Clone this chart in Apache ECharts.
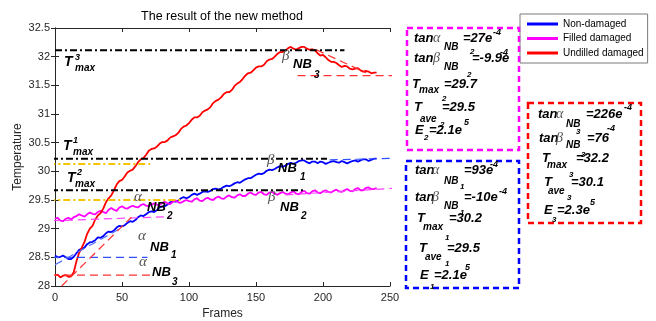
<!DOCTYPE html>
<html><head><meta charset="utf-8">
<script src="https://cdn.jsdelivr.net/npm/echarts@6/dist/echarts.min.js"></script>
<style>html,body{margin:0;padding:0;background:#fff}#c{width:656px;height:321px}</style>
</head><body><div id="c"></div>
<script>
// ---------------- data ----------------
const frames = [0,2,4,6,8,10,12,14,16,18,20,22,24,26,28,30,32,34,36,38,40,42,44,46,48,50,52,54,56,58,60,62,64,66,68,70,72,74,76,78,80,82,84,86,88,90,92,94,96,98,100,102,104,106,108,110,112,114,116,118,120,122,124,126,128,130,132,134,136,138,140,142,144,146,148,150,152,154,156,158,160,162,164,166,168,170,172,174,176,178,180,182,184,186,188,190,192,194,196,198,200,202,204,206,208,210,212,214,216,218,220,222,224,226,228,230,232,234,236,238,240];
const nonDamaged = [28.53,28.50,28.51,28.53,28.50,28.47,28.47,28.51,28.57,28.63,28.65,28.67,28.73,28.76,28.77,28.80,28.85,28.84,28.87,28.92,
  28.95,28.94,28.97,29.02,29.05,29.04,29.06,29.10,29.13,29.12,29.15,29.20,29.23,29.22,29.25,29.29,29.30,29.29,29.32,29.37,
  29.39,29.39,29.42,29.46,29.48,29.47,29.49,29.53,29.55,29.53,29.55,29.59,29.61,29.59,29.61,29.64,29.65,29.64,29.66,29.69,
  29.70,29.68,29.70,29.73,29.75,29.74,29.76,29.79,29.81,29.80,29.83,29.86,29.88,29.88,29.91,29.94,29.96,29.95,29.97,30.01,
  30.03,30.02,30.04,30.07,30.09,30.08,30.10,30.13,30.15,30.13,30.15,30.18,30.19,30.19,30.16,30.14,30.17,30.17,30.14,30.17,
  30.16,30.13,30.15,30.17,30.18,30.16,30.15,30.18,30.16,30.14,30.16,30.18,30.19,30.17,30.19,30.21,30.21,30.18,30.20,30.22,30.22];
const filledDamaged = [29.17,29.19,29.14,29.13,29.17,29.19,29.16,29.20,29.22,29.25,29.23,29.21,29.25,29.28,29.26,29.25,29.29,29.31,29.29,29.27,
  29.33,29.36,29.33,29.31,29.37,29.39,29.36,29.35,29.38,29.40,29.38,29.37,29.41,29.43,29.40,29.39,29.42,29.44,29.42,29.41,
  29.45,29.47,29.44,29.43,29.47,29.49,29.46,29.45,29.48,29.50,29.48,29.47,29.51,29.53,29.49,29.48,29.52,29.54,29.51,29.50,
  29.54,29.56,29.53,29.52,29.56,29.58,29.55,29.54,29.58,29.60,29.57,29.57,29.61,29.63,29.60,29.59,29.63,29.64,29.60,29.59,
  29.63,29.64,29.61,29.59,29.62,29.64,29.61,29.60,29.63,29.65,29.61,29.60,29.64,29.66,29.62,29.61,29.65,29.67,29.63,29.62,
  29.65,29.67,29.64,29.63,29.66,29.68,29.65,29.64,29.67,29.69,29.66,29.65,29.69,29.71,29.67,29.67,29.71,29.72,29.69,29.69,29.71];
const undilledDamaged = [28.18,28.20,28.15,28.18,28.19,28.16,28.17,28.24,28.43,28.58,28.67,28.77,28.91,29.00,29.05,29.16,29.23,29.27,29.35,29.46,
  29.53,29.58,29.67,29.77,29.83,29.85,29.91,29.98,30.01,30.03,30.09,30.16,30.21,30.23,30.29,30.36,30.39,30.40,30.43,30.48,
  30.51,30.51,30.54,30.59,30.61,30.63,30.67,30.74,30.78,30.80,30.84,30.90,30.94,30.94,30.97,31.03,31.06,31.08,31.12,31.19,
  31.23,31.25,31.29,31.35,31.38,31.38,31.42,31.49,31.53,31.56,31.61,31.67,31.71,31.72,31.76,31.81,31.83,31.83,31.86,31.92,
  31.95,31.96,32.00,32.05,32.08,32.08,32.11,32.15,32.17,32.14,32.12,32.15,32.17,32.17,32.14,32.12,32.13,32.11,32.06,32.02,
  32.03,31.99,31.94,31.91,31.91,31.89,31.85,31.82,31.84,31.83,31.79,31.78,31.79,31.80,31.76,31.74,31.75,31.74,31.71,31.72,31.72];
const seriesNames = ['Non-damaged','Filled damaged','Undilled damaged'];
const seriesColors = ['#0000FF','#FF00FF','#FF0000'];
const xTicks = [0,50,100,150,200,250];
const yTicks = [28,28.5,29,29.5,30,30.5,31,31.5,32,32.5];

// reference / tangent lines (frame, temperature)
const tMax3Line = [[0,32.11],[216,32.11]];
const tMax1Line = [[-3,30.22],[203,30.22]];
const tMax2Line = [[-3,29.67],[187,29.67]];
const tAveLineA = [[-5,30.13],[71,30.13]];
const tAveLineB = [[-5,29.5],[95,29.5]];
const alpha1Base = [[-3,28.5],[69,28.5]];
const alpha3Base = [[-3,28.19],[71,28.19]];
const alpha2Tan = [[-12,29.13],[86,29.21]];
const alpha1Tan = [[0,28.37],[50,29.02]];
const alpha3Tan = [[5,28.0],[57,29.2]];
const beta1Tan = [[205,30.2],[258,30.23]];
const beta2Tan = [[172,29.59],[256,29.71]];
const beta3Tan = [[195,32.12],[232,31.72]];
const beta3Base = [[181,31.67],[257,31.67]];

// ---------------- helpers ----------------
const SANS = '"Liberation Sans", Arial, Helvetica, sans-serif';
const SERIF = '"Liberation Serif", "DejaVu Serif", serif';
function t(x, base, s, size, kind) {
  let font, fill = '#000';
  if (kind === 'g') { font = 'italic ' + size + 'px ' + SERIF; fill = '#555'; }
  else { font = 'italic bold ' + size + 'px ' + SANS; }
  return { type: 'text', x: x, y: base - 0.35 * size, z: 100, silent: true,
    style: { text: s, font: font, fill: fill, align: 'left', verticalAlign: 'middle',
             textAlign: 'left', textVerticalAlign: 'middle' } };
}
function box(x, y, w, h, color) {
  return { type: 'rect', z: 90, silent: true, shape: { x: x, y: y, width: w, height: h },
    style: { fill: 'none', stroke: color, lineWidth: 2.5, lineDash: [6, 4] } };
}
const M = 13, S = 10, SS = 8, SP = 9, G = 14;
const graphics = [
  { type: 'text', x: 222, y: 17, z: 100, style: { text: 'The result of the new method', font: '12.5px ' + SANS, fill: '#000', align: 'center', verticalAlign: 'middle', textAlign: 'center', textVerticalAlign: 'middle' } },
  t(64, 67, 'T', 14), t(75, 61, '3', SP), t(75, 72, 'max', S),
  t(63, 151, 'T', 14), t(73, 144, '1', SP), t(73, 156, 'max', S),
  t(67, 183, 'T', 14), t(77, 176, '2', SP), t(75, 188, 'max', S),
  t(134, 202, 'α', 15, 'g'), t(147, 212, 'NB', 13), t(167, 220, '2', 10),
  t(138, 241, 'α', 15, 'g'), t(150, 252, 'NB', 13), t(171, 259, '1', 10),
  t(139, 267, 'α', 15, 'g'), t(152, 277, 'NB', 13), t(172, 286, '3', 10),
  t(267, 165, 'β', 15, 'g'), t(278, 173, 'NB', 13), t(300, 181, '1', 10),
  t(268, 202, 'β', 15, 'g'), t(280, 212, 'NB', 13), t(301, 220, '2', 10),
  t(282, 61, 'β', 15, 'g'), t(293, 69, 'NB', 13), t(314, 79, '3', 10),
  box(407, 28, 112, 122, '#FF00FF'),
  t(414, 43, 'tan', M), t(433, 43, 'α', G, 'g'), t(444, 51, 'NB', S), t(470, 55, '2', SS), t(463, 43, '=27e', M), t(493, 36, '-4', SP),
  t(414, 63, 'tan', M), t(433, 63, 'β', G, 'g'), t(444, 71, 'NB', S), t(467, 78, '2', SS), t(472, 63, '=-9.9e', M), t(500, 56, '-4', SP),
  t(412, 89, 'T', M), t(419, 94, 'max', S), t(442, 102, '2', SS), t(444, 89, '=29.7', M),
  t(414, 112, 'T', M), t(420, 123, 'ave', S), t(440, 128, '2', SS), t(442, 112, '=29.5', M),
  t(415, 135, 'E', M), t(424, 141, '2', SS), t(429, 135, '=2.1e', M), t(464, 126, '5', SP),
  box(528, 103, 113, 120, '#FF0000'),
  t(538, 119, 'tan', M), t(556, 119, 'α', G, 'g'), t(566, 128, 'NB', S), t(576, 135, '3', SS), t(586, 119, '=226e', M), t(624, 111, '-4', SP),
  t(539, 143, 'tan', M), t(556, 143, 'β', G, 'g'), t(566, 149, 'NB', S), t(581, 158, '3', SS), t(587, 143, '=76', M), t(607, 132, '-4', SP),
  t(542, 163, 'T', M), t(547, 169, 'max', S), t(569, 178, '3', SS), t(576, 163, '=32.2', M),
  t(544, 187, 'T', M), t(548, 195, 'ave', S), t(567, 201, '3', SS), t(571, 187, '=30.1', M),
  t(544, 215, 'E', M), t(552, 223, '3', SS), t(557, 215, '=2.3e', M), t(590, 206, '5', SP),
  box(406, 161, 113, 127, '#0000FF'),
  t(415, 175, 'tan', M), t(432, 175, 'α', G, 'g'), t(444, 185, 'NB', S), t(460, 190, '1', SS), t(464, 175, '=93e', M), t(490, 168, '-4', SP),
  t(415, 202, 'tan', M), t(432, 202, 'β', G, 'g'), t(444, 210, 'NB', S), t(460, 216, '1', SS), t(464, 202, '=-10e', M), t(499, 195, '-4', SP),
  t(417, 223, 'T', M), t(423, 231, 'max', S), t(445, 241, '1', SS), t(449, 223, '=30.2', M),
  t(419, 253, 'T', M), t(425, 261, 'ave', S), t(445, 267, '1', SS), t(447, 253, '=29.5', M),
  t(420, 280, 'E', M), t(430, 290, '1', SS), t(434, 280, '=2.1e', M), t(465, 271, '5', SP)
];

function pairs(xs, ys) { return xs.map((x, i) => [x, ys[i]]); }
function refLine(data, color, width, dash) {
  return { type: 'line', data: data, showSymbol: false, symbol: 'none', clip: false, silent: true,
    animation: false, z: 5, lineStyle: { color: color, width: width, type: dash } };
}
const DASHDOT = [7, 3, 2, 3];
const DASH = [8, 5];

const chart = echarts.init(document.getElementById('c'), null, { renderer: 'canvas' });
const axisCol = '#262626';
chart.setOption({
  animation: false,
  backgroundColor: '#fff',
  grid: { left: 55, right: 266, top: 28, bottom: 35, containLabel: false, outerBoundsMode: 'none' },
  legend: {
    data: seriesNames, orient: 'vertical', left: 520, top: 14,
    icon: 'rect', itemWidth: 31, itemHeight: 3, itemGap: 4.5,
    padding: [5, 4, 5, 7], borderColor: '#7a7a7a', borderWidth: 1, backgroundColor: '#fff',
    textStyle: { fontSize: 10, color: '#000', fontFamily: SANS },
    selectedMode: false
  },
  xAxis: [
    { type: 'value', min: 0, max: 250, interval: 50, name: 'Frames', nameLocation: 'middle', nameGap: 22,
      nameTextStyle: { fontSize: 12, color: axisCol, fontFamily: SANS },
      axisLine: { lineStyle: { color: axisCol, width: 1 } },
      axisTick: { inside: true, length: 4, lineStyle: { color: axisCol } },
      axisLabel: { fontSize: 11, color: axisCol, fontFamily: SANS, margin: 6, customValues: xTicks },
      splitLine: { show: false } },
    { type: 'value', position: 'top', min: 0, max: 250, interval: 50,
      axisLine: { lineStyle: { color: axisCol, width: 1 } },
      axisTick: { inside: true, length: 4, lineStyle: { color: axisCol } },
      axisLabel: { show: false }, splitLine: { show: false } }
  ],
  yAxis: [
    { type: 'value', min: 28, max: 32.5, interval: 0.5, name: 'Temperature', nameLocation: 'middle', nameGap: 31,
      nameMoveOverlap: false,
      nameTextStyle: { fontSize: 12, color: axisCol, fontFamily: SANS },
      axisLine: { show: true, lineStyle: { color: axisCol, width: 1 } },
      axisTick: { show: true, inside: true, length: 4, lineStyle: { color: axisCol } },
      axisLabel: { fontSize: 11, color: axisCol, fontFamily: SANS, margin: 5, customValues: yTicks },
      splitLine: { show: false } },
    { type: 'value', position: 'right', min: 28, max: 32.5, interval: 0.5,
      axisLine: { show: true, lineStyle: { color: axisCol, width: 1 } },
      axisTick: { show: true, inside: true, length: 4, lineStyle: { color: axisCol } },
      axisLabel: { show: false }, splitLine: { show: false } }
  ],
  series: [
    { name: seriesNames[0], type: 'line', data: pairs(frames, nonDamaged), showSymbol: false, symbol: 'none', z: 3,
      color: seriesColors[0], lineStyle: { color: seriesColors[0], width: 1.8 } },
    { name: seriesNames[1], type: 'line', data: pairs(frames, filledDamaged), showSymbol: false, symbol: 'none', z: 3,
      color: seriesColors[1], lineStyle: { color: seriesColors[1], width: 1.8 } },
    { name: seriesNames[2], type: 'line', data: pairs(frames, undilledDamaged), showSymbol: false, symbol: 'none', z: 3,
      color: seriesColors[2], lineStyle: { color: seriesColors[2], width: 1.8 } },
    refLine(tMax3Line, '#000', 2, DASHDOT),
    refLine(tMax1Line, '#000', 2, DASHDOT),
    refLine(tMax2Line, '#000', 2, DASHDOT),
    refLine(tAveLineA, '#F5C400', 2, DASHDOT),
    refLine(tAveLineB, '#F5C400', 2, DASHDOT),
    refLine(alpha1Base, '#3050FF', 1.2, DASH),
    refLine(alpha3Base, '#FF3030', 1.2, DASH),
    refLine(alpha2Tan, '#FF40FF', 1.2, DASH),
    refLine(alpha1Tan, '#5070FF', 1.2, DASH),
    refLine(alpha3Tan, '#FF3030', 1.2, DASH),
    refLine(beta1Tan, '#3050FF', 1.2, DASH),
    refLine(beta2Tan, '#FF40FF', 1.2, DASH),
    refLine(beta3Tan, '#FF3030', 1.2, DASH),
    refLine(beta3Base, '#FF3030', 1.2, DASH)
  ],
  graphic: { elements: graphics }
});
</script></body></html>
